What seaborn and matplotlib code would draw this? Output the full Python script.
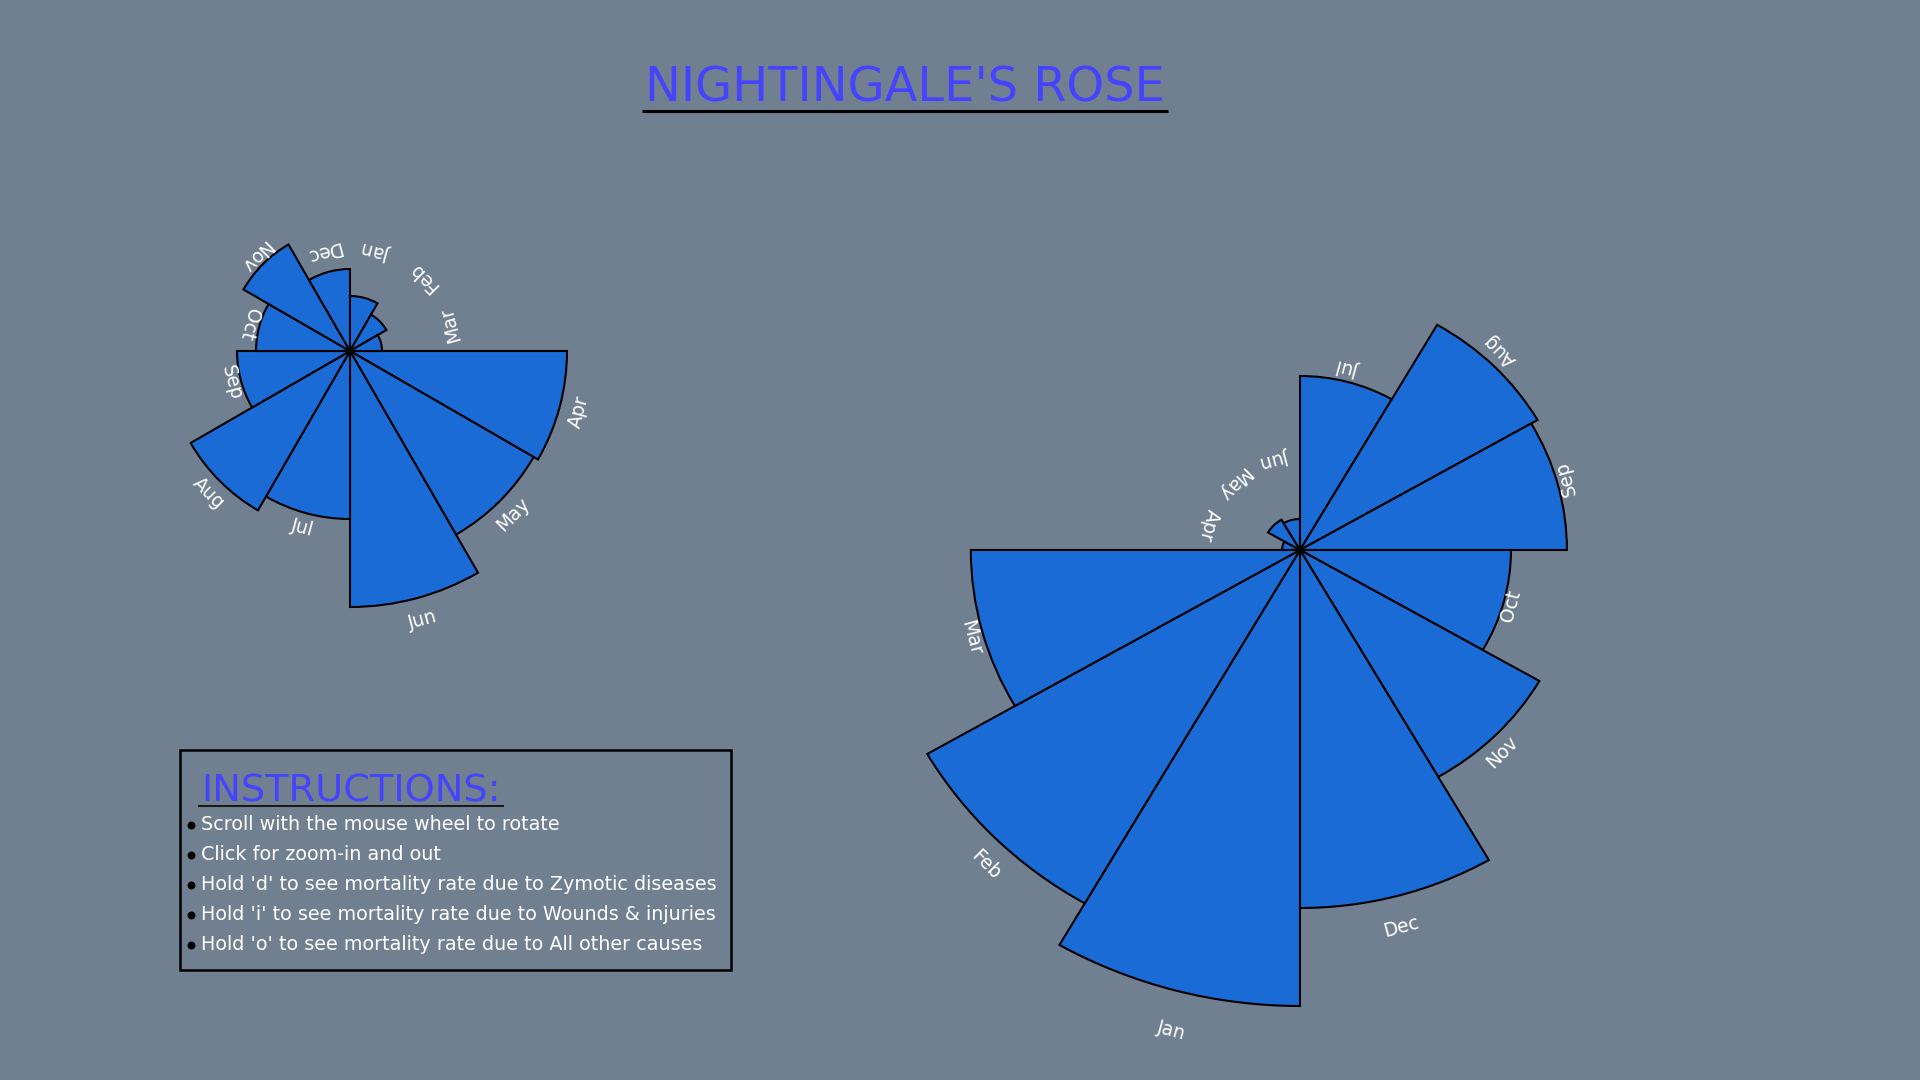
import numpy as np
import matplotlib
matplotlib.use("Agg")
import matplotlib.pyplot as plt
from matplotlib.patches import Rectangle
import seaborn as sns

# Month order of each rose (April to March) and wedge radii
months_left = ['Apr', 'May', 'Jun', 'Jul', 'Aug', 'Sep', 'Oct', 'Nov', 'Dec', 'Jan', 'Feb', 'Mar']
radius_left = [217, 212, 256, 168, 184, 113, 94, 123, 82, 55, 42, 32]

months_right = ['Apr', 'May', 'Jun', 'Jul', 'Aug', 'Sep', 'Oct', 'Nov', 'Dec', 'Jan', 'Feb', 'Mar']
radius_right = [17, 35, 31, 174, 260, 253, 200, 262, 358, 456, 408, 312]

title = "NIGHTINGALE'S ROSE"
instr_title = "INSTRUCTIONS:"
instructions = [
    "Scroll with the mouse wheel to rotate",
    "Click for zoom-in and out",
    "Hold 'd' to see mortality rate due to Zymotic diseases",
    "Hold 'i' to see mortality rate due to Wounds & injuries",
    "Hold 'o' to see mortality rate due to All other causes",
]

BG = '#718090'
BAR = '#1b6bd7'
BLUE = '#4643ff'
W, H = 1920, 1080

sns.set_theme(style="dark", rc={"figure.facecolor": BG, "axes.facecolor": BG,
                                "savefig.facecolor": BG})
plt.rcParams['font.family'] = ['DejaVu Sans']


def box(cx, cy, rx, ry):
    return [(cx - rx) / W, (H - cy - ry) / H, 2 * rx / W, 2 * ry / H]


def draw_rose(ax, months, radius, zero, rmax, rmin_label, stretch=1.0):
    ax.set_theta_zero_location(zero)
    ax.set_theta_direction(-1)
    theta = np.deg2rad(15 + 30 * np.arange(len(months)))
    ax.bar(theta, radius, width=np.deg2rad(30), align='center',
           color=BAR, edgecolor='black', linewidth=1.5)
    ax.set_ylim(0, rmax)
    ax.set_aspect('auto')
    ax.set_axis_off()
    base = 0 if zero == 'E' else 180
    for t, r, m in zip(theta, radius, months):
        math_ang = base - np.rad2deg(t)
        rho = max(r * 1.09, rmin_label)
        # labels sit on an unstretched circle even when the rose is stretched
        a = np.deg2rad(math_ang)
        x, y = rho * np.cos(a) / stretch, rho * np.sin(a)
        t2 = np.deg2rad(base) - np.arctan2(y, x)
        rot = (math_ang + 90 + 180) % 360 - 180
        ax.text(t2, np.hypot(x, y), m, rotation=rot, rotation_mode='anchor',
                ha='center', va='center', color='white', fontsize=13.5)


fig = plt.figure(figsize=(W / 100, H / 100), dpi=100)

# overlay in pixel coordinates for title and instructions
ov = fig.add_axes([0, 0, 1, 1])
ov.set_xlim(0, W)
ov.set_ylim(H, 0)
ov.axis('off')

ax_l = fig.add_axes(box(350, 351, 300, 300), projection='polar')
draw_rose(ax_l, months_left, radius_left, 'E', 300, 104)

k = 1.055
ax_r = fig.add_axes(box(1300, 550, 500 * k, 500), projection='polar')
draw_rose(ax_r, months_right, radius_right, 'W', 500, 94.5, stretch=k)

t_title = ov.text(905, 101, title, ha='center', va='baseline', color=BLUE, fontsize=34.5)
t_head = ov.text(201, 801, instr_title, ha='left', va='baseline', color=BLUE, fontsize=27.5)

ov.add_patch(Rectangle((180, 750), 551, 220, fill=False, edgecolor='black', linewidth=1.8))
for i, line in enumerate(instructions):
    ov.text(201, 830 + 30 * i, line, ha='left', va='baseline', color='white', fontsize=13.8)
ov.scatter([191] * len(instructions), [825 + 30 * i for i in range(len(instructions))],
           s=22, color='black', zorder=3)

# underlines sized from rendered text
fig.canvas.draw()
inv = ov.transData.inverted()
for t, y, lw, col in [(t_title, 110.5, 2.2, 'black'), (t_head, 805.5, 1.5, '#1a1a1a')]:
    bb = t.get_window_extent()
    x0 = inv.transform((bb.x0, bb.y0))[0]
    x1 = inv.transform((bb.x1, bb.y0))[0]
    ov.plot([x0 - 3, x1 + 3], [y, y], color=col, lw=lw, solid_capstyle='butt')

fig.savefig('out.png', dpi=100, facecolor=BG)
